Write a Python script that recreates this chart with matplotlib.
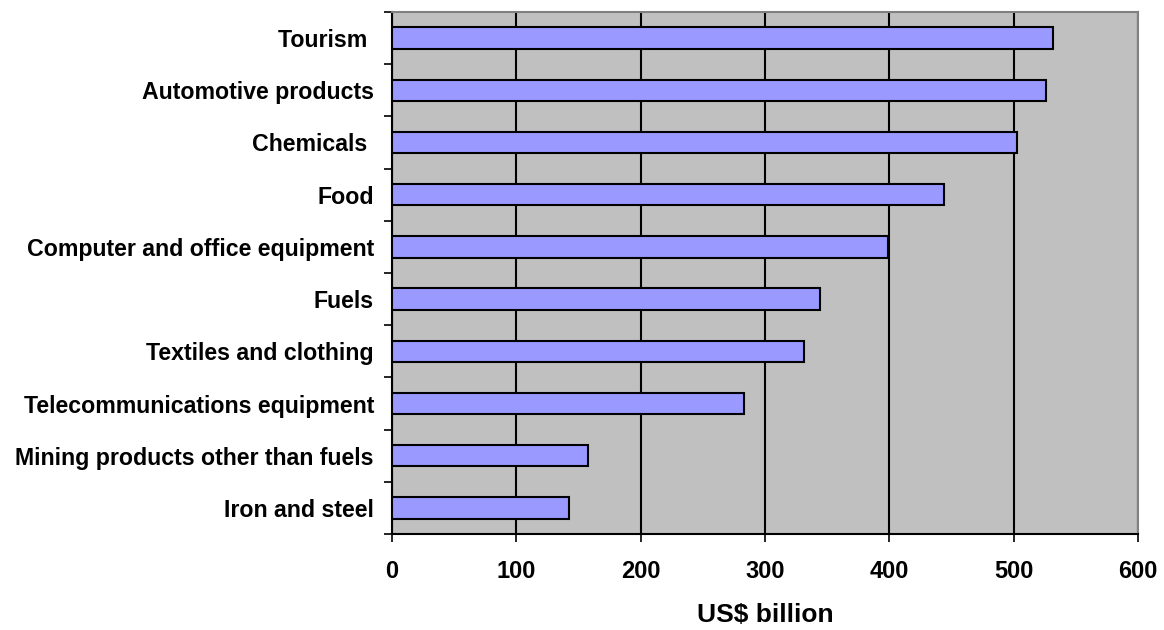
import matplotlib.pyplot as plt
import numpy as np

plt.rcParams['font.family'] = ['Liberation Sans', 'DejaVu Sans']

# World exports by product group, US$ billion
categories = ['Tourism ', 'Automotive products', 'Chemicals ', 'Food',
              'Computer and office equipment', 'Fuels', 'Textiles and clothing',
              'Telecommunications equipment', 'Mining products other than fuels',
              'Iron and steel']
values = [532, 526, 503, 444, 399, 344, 331, 283, 158, 142]

fig = plt.figure(figsize=(11.64, 6.30), dpi=100)
ax = fig.add_axes([392 / 1164, 1 - 534 / 630, (1138 - 392) / 1164, (534 - 12) / 630])

y = np.arange(len(categories))[::-1]
ax.set_facecolor('#C0C0C0')
ax.barh(y, values, height=0.41, color='#9999FF', edgecolor='black', linewidth=1.5, zorder=3)

ax.set_xlim(0, 600)
ax.set_ylim(-0.5, len(categories) - 0.5)
ax.set_xticks(range(0, 601, 100))
ax.xaxis.grid(True, color='black', linewidth=1.5, zorder=1)

ax.set_yticks(y)
ax.set_yticklabels(categories, fontsize=16.7, fontweight='bold')
ax.set_yticks(np.arange(-0.5, len(categories), 1), minor=True)
ax.tick_params(axis='y', which='major', length=0, pad=13)
ax.tick_params(axis='y', which='minor', length=6, width=1.2, direction='out')
ax.tick_params(axis='x', length=6, width=1.2, direction='out', pad=13, labelsize=17)
for lbl in ax.get_xticklabels():
    lbl.set_fontweight('bold')

ax.set_xlabel('US$ billion', fontsize=19, fontweight='bold', labelpad=14)

for side in ('top', 'right'):
    ax.spines[side].set_color('#808080')
    ax.spines[side].set_linewidth(1.5)
for side in ('left', 'bottom'):
    ax.spines[side].set_color('black')
    ax.spines[side].set_linewidth(1.5)

fig.savefig('out.png', dpi=100)
